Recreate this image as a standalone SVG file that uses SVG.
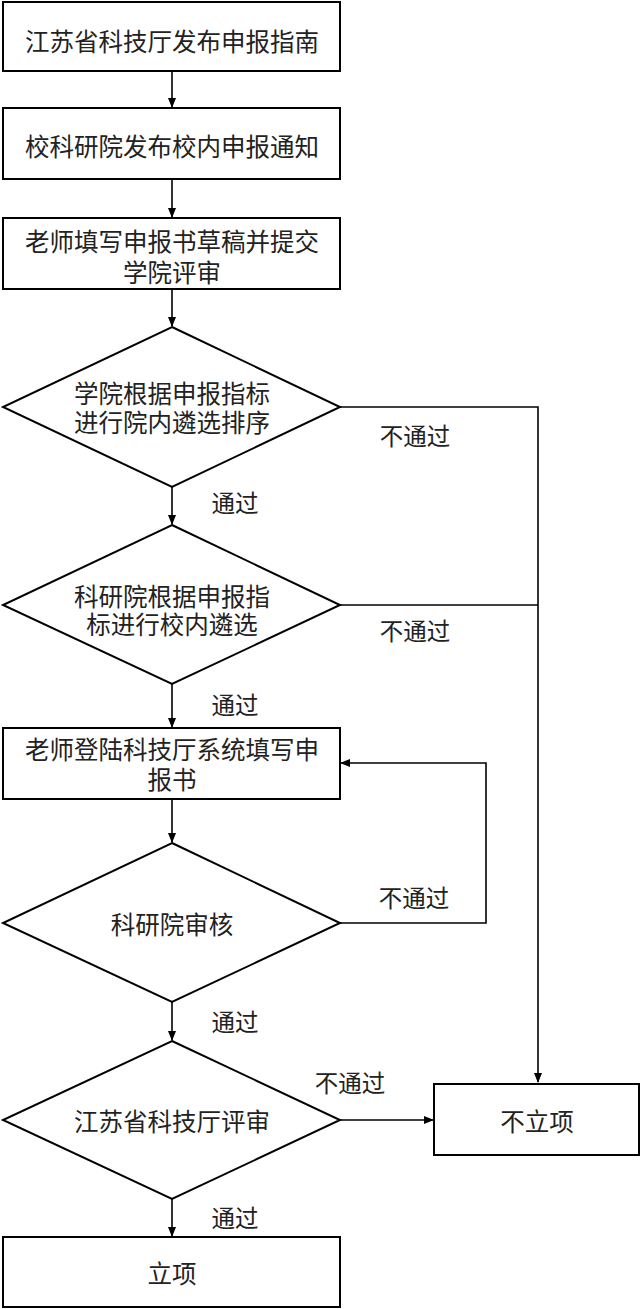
<svg xmlns="http://www.w3.org/2000/svg" width="640" height="1309" viewBox="0 0 640 1309">
<style>
.n{fill:#fff;stroke:#000;stroke-width:2}
.t{font-family:"Noto Sans CJK SC",sans-serif;font-size:24.5px;fill:#222;text-anchor:middle}
.l{font-family:"Noto Sans CJK SC",sans-serif;font-size:23.5px;fill:#222;text-anchor:middle}
.c{fill:none;stroke:#000;stroke-width:1.6}
</style>
<defs>
<marker id="a" markerWidth="10" markerHeight="8" refX="9" refY="4" orient="auto" markerUnits="userSpaceOnUse">
<path d="M0,0 L10,4 L0,8 Z" fill="#000"/>
</marker>
</defs>
<rect width="640" height="1309" fill="#fff"/>
<g id="connectors">
<path class="c" d="M172,71 V107" marker-end="url(#a)"/>
<path class="c" d="M172,179 V217" marker-end="url(#a)"/>
<path class="c" d="M172,289 V326" marker-end="url(#a)"/>
<path class="c" d="M172,487 V524" marker-end="url(#a)"/>
<path class="c" d="M172,684 V727" marker-end="url(#a)"/>
<path class="c" d="M172,799 V842" marker-end="url(#a)"/>
<path class="c" d="M172,1002 V1040" marker-end="url(#a)"/>
<path class="c" d="M172,1199 V1236" marker-end="url(#a)"/>
<path class="c" d="M340,407 H538 V1082" marker-end="url(#a)"/>
<path class="c" d="M340,605 H538"/>
<path class="c" d="M340,923 H486 V763 H341" marker-end="url(#a)"/>
<path class="c" d="M340,1120 H433" marker-end="url(#a)"/>
<text class="l" x="415" y="445">不通过</text>
<text class="l" x="235" y="512">通过</text>
<text class="l" x="415" y="640">不通过</text>
<text class="l" x="235" y="714">通过</text>
<text class="l" x="414" y="907">不通过</text>
<text class="l" x="235" y="1031">通过</text>
<text class="l" x="350" y="1092">不通过</text>
<text class="l" x="235" y="1227">通过</text>
</g>
<g id="n1"><rect class="n" x="3" y="2" width="337" height="69"/><text class="t" x="172" y="51">江苏省科技厅发布申报指南</text></g>
<g id="n2"><rect class="n" x="3" y="108" width="337" height="71"/><text class="t" x="172" y="156">校科研院发布校内申报通知</text></g>
<g id="n3"><rect class="n" x="3" y="218" width="337" height="71"/><text class="t" x="172" y="251">老师填写申报书草稿并提交</text><text class="t" x="172" y="282">学院评审</text></g>
<g id="n4"><polygon class="n" points="172,327 340,407 172,487 3,407"/><text class="t" x="172" y="403">学院根据申报指标</text><text class="t" x="172" y="432">进行院内遴选排序</text></g>
<g id="n5"><polygon class="n" points="172,525 340,605 172,684 3,605"/><text class="t" x="172" y="606">科研院根据申报指</text><text class="t" x="172" y="634">标进行校内遴选</text></g>
<g id="n6"><rect class="n" x="3" y="728" width="337" height="71"/><text class="t" x="172" y="759">老师登陆科技厅系统填写申</text><text class="t" x="172" y="789">报书</text></g>
<g id="n7"><polygon class="n" points="172,843 340,923 172,1002 3,923"/><text class="t" x="172" y="934">科研院审核</text></g>
<g id="n8"><polygon class="n" points="172,1041 340,1120 172,1199 3,1120"/><text class="t" x="172" y="1131">江苏省科技厅评审</text></g>
<g id="n9"><rect class="n" x="434" y="1084" width="205" height="71"/><text class="t" x="537" y="1131">不立项</text></g>
<g id="n10"><rect class="n" x="3" y="1237" width="337" height="70"/><text class="t" x="172" y="1283">立项</text></g>
</svg>
